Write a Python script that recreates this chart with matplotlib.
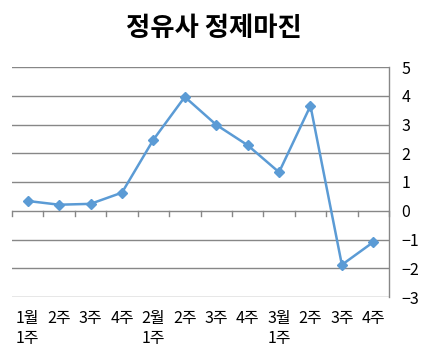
import matplotlib
matplotlib.use("Agg")
import matplotlib.pyplot as plt
import matplotlib.transforms as mtransforms

plt.rcParams['font.family'] = ['Noto Sans CJK KR', 'DejaVu Sans']

title = "정유사 정제마진"
categories = ["1월\n1주", "2주", "3주", "4주", "2월\n1주", "2주", "3주", "4주", "3월\n1주", "2주", "3주", "4주"]
values = [0.34, 0.21, 0.24, 0.63, 2.47, 3.96, 2.99, 2.28, 1.34, 3.65, -1.88, -1.09]
yticks = [5, 4, 3, 2, 1, 0, -1, -2, -3]

grid_color = "#878787"
line_color = "#5B9BD5"

fig = plt.figure(figsize=(4.29, 3.57), dpi=100)
ax = fig.add_axes([12/429, 60/357, 377/429, 230/357])

x = list(range(len(values)))
ax.plot(x, values, color=line_color, lw=1.8, marker='D', markersize=5.5,
        markerfacecolor=line_color, markeredgecolor=line_color, zorder=3)

ax.set_xlim(-0.5, len(values) - 0.5)
ax.set_ylim(min(yticks), max(yticks))

for yv in yticks:
    ax.axhline(yv, color=grid_color, lw=1.0, zorder=1)

# category boundary ticks on the zero line
for b in range(len(values) + 1):
    ax.plot([b - 0.5, b - 0.5], [0, -0.17], color=grid_color, lw=1.0,
            clip_on=False, zorder=1)

for s in ['left', 'top', 'bottom']:
    ax.spines[s].set_visible(False)
ax.spines['right'].set_color(grid_color)
ax.spines['right'].set_linewidth(1.0)

ax.yaxis.tick_right()
ax.set_yticks(yticks)
ax.set_yticklabels([str(v).replace('-', '−') for v in yticks])
ax.tick_params(axis='y', length=0, pad=9, labelsize=11.5, labelcolor='black')
ax.set_xticks([])

trans = mtransforms.blended_transform_factory(ax.transData, ax.transAxes)
for xi, lab in zip(x, categories):
    ax.text(xi, -0.055, lab, transform=trans, ha='center', va='top',
            multialignment='left', fontsize=11.5, linespacing=1.25)

fig.text(214/429, 1 - 29/357, title, ha='center', va='center',
         fontsize=19, fontweight='bold')

fig.savefig("out.png", dpi=100)
